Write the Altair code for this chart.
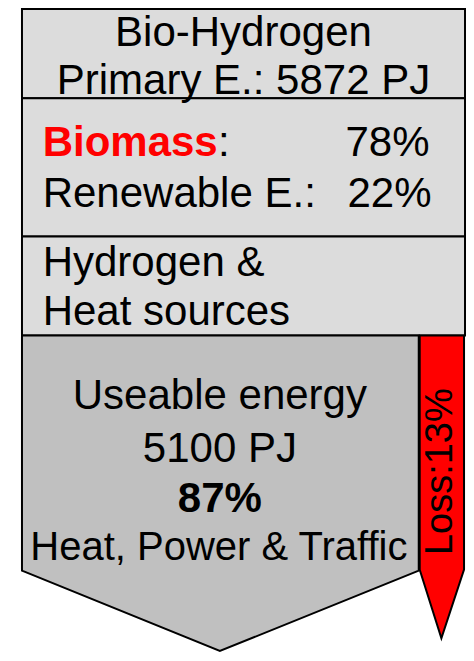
import altair as alt
import pandas as pd

# ---- values ----
title_text = "Bio-Hydrogen"
primary_pj = 5872
source_labels = ["Biomass", "Renewable E."]
source_shares = [78, 22]
conversion_lines = ["Hydrogen &", "Heat sources"]
useable_pj = 5100
useable_share = 87
loss_share = 13
use_label = "Heat, Power & Traffic"

# ---- layout (reference pixel frame) ----
X0, X1 = 7.8, 473
Y0, Y1 = 4, 662
W, H = 458, 645
FS = 42

xs = alt.Scale(domain=[X0, X1], range=[0, W], nice=False, zero=False)
ys = alt.Scale(domain=[Y0, Y1], range=[0, H], nice=False, zero=False)

def X(f="x"):
    return alt.X(f"{f}:Q", scale=xs, axis=None)

def Y(f="y"):
    return alt.Y(f"{f}:Q", scale=ys, axis=None)

boxes = pd.DataFrame({
    "x": [22, 22, 22], "x2": [472, 472, 472],
    "y": [5, 96, 237], "y2": [96, 237, 338],
})
box_layer = alt.Chart(boxes).mark_rect(
    fill="#DCDCDC", stroke="black", strokeWidth=2
).encode(x=X("x"), x2="x2:Q", y=Y("y"), y2="y2:Q")

useful = pd.DataFrame({"x": [22, 223, 425], "y": [578, 660, 578], "y2": [338, 338, 338]})
useful_layer = alt.Chart(useful).mark_area(
    fill="#C0C0C0", stroke="black", strokeWidth=2, opacity=1, fillOpacity=1
).encode(x=X("x"), y=Y("y"), y2="y2:Q")

loss = pd.DataFrame({"x": [426, 448, 471], "y": [577, 647, 577], "y2": [338, 338, 338]})
loss_layer = alt.Chart(loss).mark_area(
    fill="#FF0000", stroke="black", strokeWidth=2, opacity=1, fillOpacity=1
).encode(x=X("x"), y=Y("y"), y2="y2:Q")

font = "Liberation Sans"

def text_layer(df, size=FS, **kw):
    return alt.Chart(pd.DataFrame(df)).mark_text(
        font=font, fontSize=size, baseline="alphabetic", **kw
    ).encode(x=X("x"), y=Y("y"), text="t:N")

center_normal = text_layer({
    "t": [title_text, f"Primary E.: {primary_pj} PJ", "Useable energy",
          f"{useable_pj} PJ"],
    "x": [247, 247, 223, 223],
    "y": [43, 92, 413, 467],
}, align="center", color="black")

use_line = text_layer({
    "t": [use_label], "x": [222], "y": [567],
}, size=40, align="center", color="black")

center_bold = text_layer({
    "t": [f"{useable_share}%"], "x": [223], "y": [518],
}, align="center", color="black", fontWeight="bold")

biomass = text_layer({
    "t": [source_labels[0]], "x": [43], "y": [155],
}, align="left", color="#FF0000", fontWeight="bold")

left_normal = text_layer({
    "t": [":", source_labels[1] + ":", conversion_lines[0], conversion_lines[1]],
    "x": [221, 43, 43, 43],
    "y": [155, 207, 277, 327],
}, align="left", color="black")

right_normal = text_layer({
    "t": [f"{source_shares[0]}%", f"{source_shares[1]}%"],
    "x": [436, 438], "y": [155, 207],
}, align="right", color="black")

loss_text = alt.Chart(pd.DataFrame({"t": [f"Loss:{loss_share}%"], "x": [448], "y": [477]})).mark_text(
    font=font, fontSize=38, angle=270, align="center", baseline="middle", color="black"
).encode(x=X("x"), y=Y("y"), text="t:N")

chart = alt.layer(
    box_layer, useful_layer, loss_layer,
    center_normal, use_line, center_bold, biomass, left_normal, right_normal, loss_text
).properties(
    width=W, height=H, padding=0,
    autosize=alt.AutoSizeParams(type="none"),
).configure_view(stroke=None)

chart.save("out.html", embed_options={"renderer": "svg", "actions": False})
